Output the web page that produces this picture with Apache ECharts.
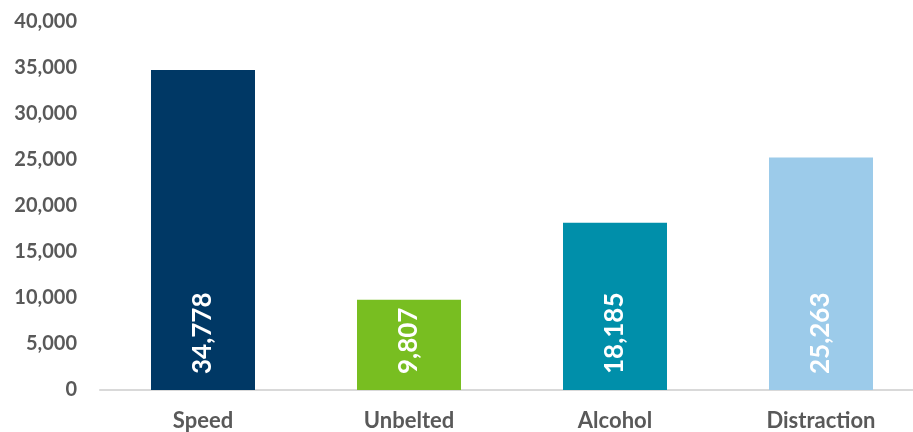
<!DOCTYPE html>
<html>
<head>
<meta charset="utf-8">
<script src="https://cdn.jsdelivr.net/npm/echarts@6/dist/echarts.min.js"></script>
<style>
  html, body { margin: 0; padding: 0; background: #ffffff; overflow: hidden; }
  #frame { width: 913px; height: 432px; overflow: hidden; }
  /* plot area runs past the right edge of the frame */
  #chart { width: 924px; height: 432px; }
</style>
</head>
<body>
<div id="frame"><div id="chart"></div></div>
<script>
// Crash factors and their counts
const categories = ['Speed', 'Unbelted', 'Alcohol', 'Distraction'];
const values = [34778, 9807, 18185, 25263];
const barColors = ['#003865', '#78BE21', '#008FAA', '#9CCBEA'];
const yTicks = { min: 0, max: 40000, interval: 5000 };

const fmt = v => v.toLocaleString('en-US');

const chart = echarts.init(document.getElementById('chart'), null, { renderer: 'canvas' });

chart.setOption({
  animation: false,
  backgroundColor: '#ffffff',
  grid: { left: 100, top: 22, right: 0, height: 369, containLabel: false },
  xAxis: {
    type: 'category',
    data: categories,
    axisLine: { show: true, lineStyle: { color: '#d9d9d9', width: 2 } },
    axisTick: { show: false },
    axisLabel: {
      color: '#595959',
      fontFamily: 'Lato',
      fontWeight: 'bold',
      fontSize: 22,
      margin: 20
    }
  },
  yAxis: {
    type: 'value',
    min: yTicks.min,
    max: yTicks.max,
    interval: yTicks.interval,
    splitLine: { show: false },
    axisLine: { show: false },
    axisTick: { show: false },
    axisLabel: {
      color: '#595959',
      fontFamily: 'Lato',
      fontWeight: 'bold',
      fontSize: 20,
      margin: 23,
      formatter: v => fmt(v)
    }
  },
  series: [{
    type: 'bar',
    barWidth: 104,
    data: values.map((v, i) => ({ value: v, itemStyle: { color: barColors[i] } })),
    label: {
      show: true,
      position: 'insideBottom',
      rotate: 90,
      align: 'left',
      verticalAlign: 'middle',
      distance: 16,
      color: '#ffffff',
      fontFamily: 'Lato',
      fontWeight: 'bold',
      fontSize: 26,
      formatter: p => fmt(p.value)
    }
  }]
});
</script>
</body>
</html>
